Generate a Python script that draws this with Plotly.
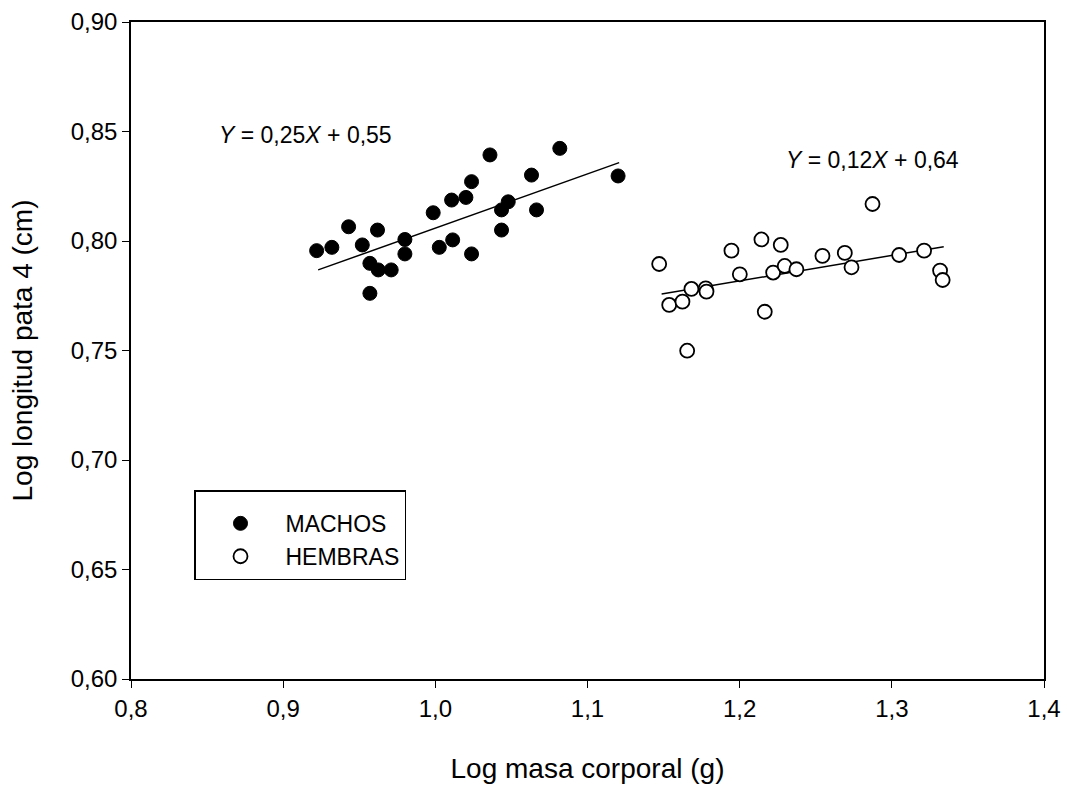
import plotly.graph_objects as go

# Data
machos_x = [0.922, 0.932, 0.943, 0.952, 0.962, 0.957, 0.9625, 0.971, 0.957, 0.980, 0.980,
            0.9986, 1.0026, 1.0114, 1.0107, 1.0201, 1.0238, 1.0238, 1.0359, 1.0435, 1.0435,
            1.0479, 1.0632, 1.0665, 1.0818, 1.1201]
machos_y = [0.7956, 0.7971, 0.8065, 0.7982, 0.8050, 0.7898, 0.7868, 0.7868, 0.7761, 0.8007, 0.7941,
            0.8129, 0.7971, 0.8005, 0.8187, 0.8199, 0.8271, 0.7941, 0.8393, 0.8050, 0.8142,
            0.8179, 0.8301, 0.8142, 0.8423, 0.8297]
hembras_x = [1.1471, 1.1537, 1.1624, 1.1683, 1.1777, 1.1782, 1.1655, 1.1946, 1.2001, 1.2143,
             1.2165, 1.2220, 1.2270, 1.2296, 1.2373, 1.2544, 1.2691, 1.2735, 1.2873, 1.3048,
             1.3212, 1.3317, 1.3334]
hembras_y = [0.7895, 0.7708, 0.7723, 0.7781, 0.7784, 0.7769, 0.7499, 0.7956, 0.7848, 0.8007,
             0.7677, 0.7856, 0.7982, 0.7886, 0.7871, 0.7932, 0.7946, 0.7880, 0.8169, 0.7936,
             0.7956, 0.7865, 0.7822]
fit_m_x = [0.923, 1.1208]
fit_m_y = [0.7868, 0.8358]
fit_h_x = [1.1487, 1.3341]
fit_h_y = [0.7758, 0.7974]
x_ticks = [0.8, 0.9, 1.0, 1.1, 1.2, 1.3, 1.4]
y_ticks = [0.60, 0.65, 0.70, 0.75, 0.80, 0.85, 0.90]

FONT = "Liberation Sans, Arial, sans-serif"

fig = go.Figure()
fig.add_trace(go.Scatter(x=fit_m_x, y=fit_m_y, mode="lines", line=dict(color="black", width=1.5),
                         showlegend=False, hoverinfo="skip"))
fig.add_trace(go.Scatter(x=fit_h_x, y=fit_h_y, mode="lines", line=dict(color="black", width=1.5),
                         showlegend=False, hoverinfo="skip"))
fig.add_trace(go.Scatter(x=machos_x, y=machos_y, mode="markers", name="MACHOS", legendgroup="m",
                         marker=dict(symbol="circle", size=14, color="black",
                                     line=dict(color="black", width=1))))
fig.add_trace(go.Scatter(x=hembras_x, y=hembras_y, mode="markers", name="HEMBRAS", legendgroup="h",
                         marker=dict(symbol="circle", size=14, color="white",
                                     line=dict(color="black", width=1.8))))

fig.add_annotation(x=0.915, y=0.8484, xref="x", yref="y",
                   text="<i>Y</i> = 0,25<i>X</i> + 0,55", showarrow=False,
                   font=dict(family=FONT, size=23, color="black"))
fig.add_annotation(x=1.2875, y=0.837, xref="x", yref="y",
                   text="<i>Y</i> = 0,12<i>X</i> + 0,64", showarrow=False,
                   font=dict(family=FONT, size=23, color="black"))

fig.update_layout(
    width=1067, height=796,
    margin=dict(l=131, r=23, t=22, b=117, autoexpand=False),
    paper_bgcolor="white", plot_bgcolor="white",
    separators=",.",
    font=dict(family=FONT, size=24, color="black"),
    legend=dict(x=(194 - 131) / 913, y=(679 - 490) / 657, xanchor="left", yanchor="top",
                bordercolor="black", borderwidth=1.5, bgcolor="white",
                font=dict(family=FONT, size=23), itemwidth=80,
                traceorder="grouped", tracegroupgap=0,
                title=dict(text=" ", font=dict(size=8))),
)
fig.update_xaxes(range=[0.8, 1.4], tickvals=x_ticks, tickformat=".1f", automargin=True,
                 showgrid=False, zeroline=False, showline=True, linecolor="black", linewidth=1.5,
                 mirror=True, ticks="outside", ticklen=7, tickcolor="black",
                 tickfont=dict(size=24),
                 title=dict(text="Log masa corporal (g)", font=dict(size=28), standoff=38))
fig.update_yaxes(range=[0.60, 0.90], tickvals=y_ticks, tickformat=".2f", automargin=True,
                 showgrid=False, zeroline=False, showline=True, linecolor="black", linewidth=1.5,
                 mirror=True, ticks="outside", ticklen=7, tickcolor="black",
                 tickfont=dict(size=24),
                 title=dict(text="Log longitud pata 4 (cm)", font=dict(size=28), standoff=30))

fig.write_html("out.html")
